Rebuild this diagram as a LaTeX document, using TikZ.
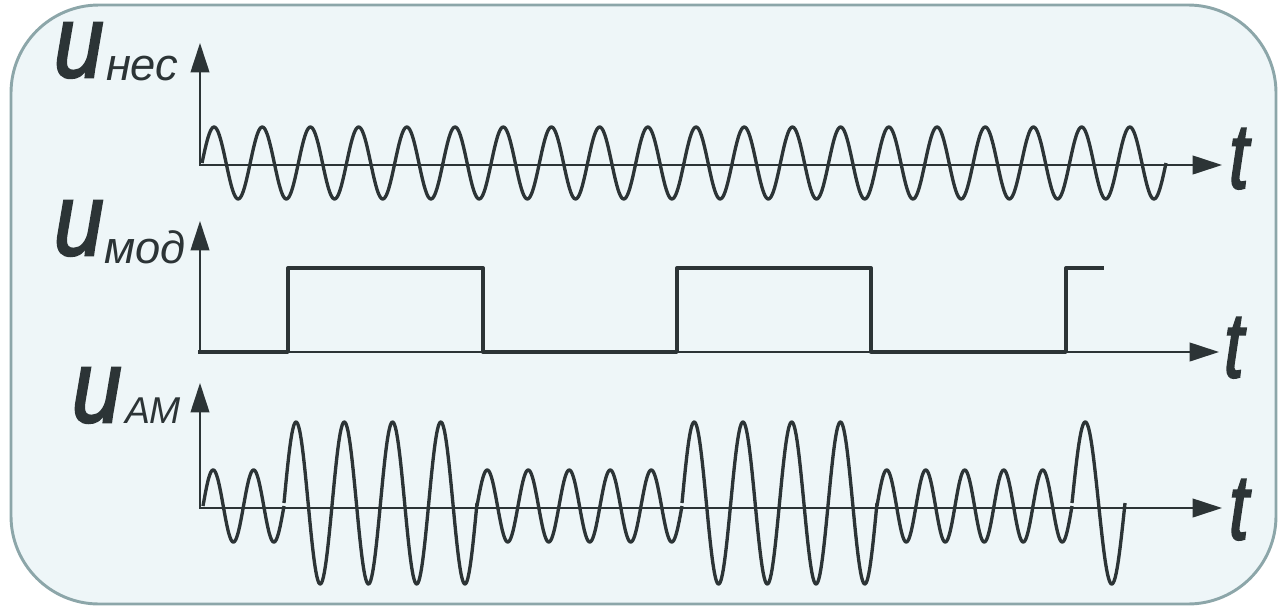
\documentclass[tikz,border=0pt]{standalone}
\usepackage{fontspec}
\usepackage{graphicx}
\setmainfont{Liberation Sans}
\newfontfamily\heavyfam{Liberation Sans}[FakeBold=2.5]
\usetikzlibrary{arrows.meta}

\definecolor{panelbg}{HTML}{EEF6F8}
\definecolor{panelrim}{HTML}{8CA6A9}
\definecolor{ink}{HTML}{2C3436}

% large italic symbols and their subscripts
\newcommand{\bigsym}[1]{\scalebox{1.05}[1.2]{\fontsize{64}{64}\heavyfam\itshape #1}}
\newcommand{\subsym}[1]{{\fontsize{34}{34}\selectfont\itshape #1}}
\newcommand{\capsub}[1]{{\fontsize{28}{28}\selectfont\itshape #1}}
\newcommand{\tsym}[1]{\scalebox{1}[1.3]{\fontsize{53}{53}\heavyfam\itshape #1}}

% one AM burst: from x0 to x1, n periods, amplitude A, centre line c
\newcommand{\amwave}[5]{%
  \draw[signal] plot[domain=#1:#2, samples=300] (\x,{#5-#4*sin(360*#3/(#2-#1)*(\x-#1))});}

\begin{document}
\begin{tikzpicture}[x=0.75pt, y=-0.75pt,
  axis/.style={draw=ink, line width=1.4pt, -{Triangle[length=22pt,width=14pt]}},
  signal/.style={draw=ink, line width=2.5pt, line join=round},
  lbl/.style={inner sep=0pt, outer sep=0pt, text=ink}]

\useasboundingbox (0,0) rectangle (1278,607);

% panel
\draw[fill=panelbg, draw=panelrim, line width=2.2pt, rounded corners=66pt]
  (11,5) rectangle (1276,604);

% origins and axis ends
\coordinate (o1) at (200,165);  \coordinate (y1) at (200,43);  \coordinate (x1) at (1222,165);
\coordinate (o2) at (200,352);  \coordinate (y2) at (200,221); \coordinate (x2) at (1219,352);
\coordinate (o3) at (200,508);  \coordinate (y3) at (200,383); \coordinate (x3) at (1222,508);

\draw[axis] ([yshift=-0.5pt]o1) -- (y1);
\draw[axis] (o1) -- (x1);
\draw[axis] ([yshift=-0.5pt]o2) -- (y2);
\draw[axis] (o2) -- (x2);
\draw[axis] ([yshift=-0.5pt]o3) -- (y3);
\draw[axis] (o3) -- (x3);

% carrier
\draw[signal] plot[domain=202:1166, samples=900] (\x,{163-36*sin(7.4689*(\x-202))});

% modulating square wave
\draw[signal] (198,352) -- (288,352) -- (288,268) -- (483,268) -- (483,352)
  -- (677,352) -- (677,268) -- (871,268) -- (871,352) -- (1066,352)
  -- (1066,268) -- (1104,268);

% amplitude-modulated signal
\amwave{203}{284}{2}{36}{506}
\amwave{284}{477}{4}{81}{503}
\amwave{477}{682}{5}{36}{506}
\amwave{682}{877}{4}{81}{503}
\amwave{877}{1072}{5}{36}{506}
\amwave{1072}{1125}{1}{81}{503}

% labels
\node[lbl, anchor=base west] (unes) at (54,77)  {\bigsym{u}};
\node[lbl, anchor=base west] (snes) at (106,80) {\subsym{нес}};
\node[lbl, anchor=base west] (umod) at (54,255) {\bigsym{u}};
\node[lbl, anchor=base west] (smod) at (104,263) {\subsym{мод}};
\node[lbl, anchor=base west] (uam)  at (72,422) {\bigsym{u}};
\node[lbl, anchor=base west] (sam)  at (125,423) {\capsub{АМ}};

\node[lbl, anchor=base west] (t1) at (1229,188) {\tsym{t}};
\node[lbl, anchor=base west] (t2) at (1224,377) {\tsym{t}};
\node[lbl, anchor=base west] (t3) at (1229,539) {\tsym{t}};

\end{tikzpicture}
\end{document}
